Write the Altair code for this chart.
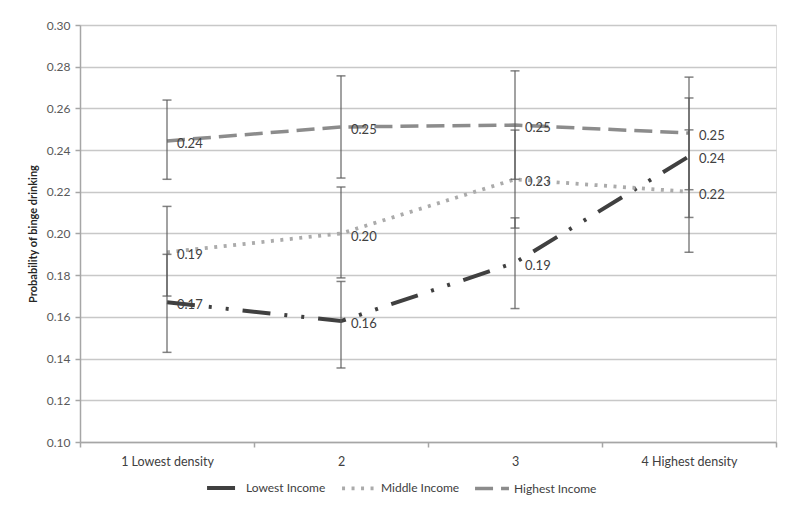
import altair as alt
import pandas as pd

categories = ["1 Lowest density", "2", "3", "4 Highest density"]
series_names = ["Lowest Income", "Middle Income", "Highest Income"]

lowest = [0.167, 0.158, 0.186, 0.237]
lowest_lo = [0.143, 0.1355, 0.164, 0.2077]
lowest_hi = [0.190, 0.177, 0.2075, 0.265]

middle = [0.191, 0.200, 0.226, 0.220]
middle_lo = [0.170, 0.1787, 0.2026, 0.191]
middle_hi = [0.213, 0.2223, 0.2496, 0.2497]

highest = [0.2444, 0.2511, 0.252, 0.2482]
highest_lo = [0.226, 0.2266, 0.226, 0.221]
highest_hi = [0.264, 0.2756, 0.278, 0.275]

y_ticks = [0.10, 0.12, 0.14, 0.16, 0.18, 0.20, 0.22, 0.24, 0.26, 0.28, 0.30]

rows = []
for name, vals, lo, hi in [
    ("Lowest Income", lowest, lowest_lo, lowest_hi),
    ("Middle Income", middle, middle_lo, middle_hi),
    ("Highest Income", highest, highest_lo, highest_hi),
]:
    for c, v, l, h in zip(categories, vals, lo, hi):
        rows.append({"series": name, "category": c, "value": v, "lo": l, "hi": h})
df = pd.DataFrame(rows)

FONT = "Lato"

x_enc = alt.X(
    "category:N",
    sort=categories,
    bandPosition=0.5,
    scale=alt.Scale(type="band", paddingInner=0, paddingOuter=0),
    axis=alt.Axis(
        title=None,
        labelAngle=0,
        labelFontSize=12.5,
        labelColor="#404040",
        labelFont=FONT,
        labelPadding=8,
        tickBand="extent",
        tickSize=5,
        tickColor="#a6a6a6",
        tickWidth=1.5,
        domainColor="#a6a6a6",
        domainWidth=1.5,
        grid=False,
    ),
)

y_scale = alt.Scale(domain=[0.10, 0.30], nice=False, zero=False)

legend_cfg = dict(
    title=None,
    orient="none",
    direction="horizontal",
    legendX=125,
    legendY=444,
    symbolType="stroke",
    symbolStrokeWidth=4,
    symbolSize=1150,
    labelFont=FONT,
    labelFontSize=12,
    labelColor="#404040",
    labelOffset=3,
    columnPadding=8,
)

base = alt.Chart(df)

lines = base.mark_line().encode(
    x=x_enc,
    y=alt.Y(
        "value:Q",
        scale=y_scale,
        axis=alt.Axis(
            title="Probability of binge drinking",
            titleFont=FONT,
            titleFontSize=11,
            titleFontWeight="bold",
            titleColor="#262626",
            titlePadding=8,
            values=y_ticks,
            format=".2f",
            labelFont=FONT,
            labelFontSize=12,
            labelColor="#595959",
            labelPadding=5,
            tickSize=5,
            tickColor="#a6a6a6",
            tickWidth=1.5,
            domainColor="#a6a6a6",
            domainWidth=1.5,
            gridColor="#c8c8c8",
            gridWidth=1.5,
        ),
    ),
    color=alt.Color(
        "series:N",
        sort=series_names,
        scale=alt.Scale(domain=series_names, range=["#404040", "#ababab", "#8c8c8c"]),
        legend=alt.Legend(**legend_cfg),
    ),
    strokeDash=alt.StrokeDash(
        "series:N",
        sort=series_names,
        scale=alt.Scale(domain=series_names, range=[[28, 14, 3, 14, 3, 14], [3, 6.5], [18, 8]]),
        legend=alt.Legend(**legend_cfg),
    ),
    strokeWidth=alt.StrokeWidth(
        "series:N",
        scale=alt.Scale(domain=series_names, range=[4, 3.5, 5]),
        legend=None,
    ),
)

rules = base.mark_rule(color="#595959", opacity=0.75, strokeWidth=1.5).encode(
    x=x_enc,
    y=alt.Y("lo:Q", scale=y_scale),
    y2="hi:Q",
)

caps_lo = base.mark_tick(color="#595959", opacity=0.75, thickness=1.5, size=9).encode(
    x=x_enc, y=alt.Y("lo:Q", scale=y_scale)
)
caps_hi = base.mark_tick(color="#595959", opacity=0.75, thickness=1.5, size=9).encode(
    x=x_enc, y=alt.Y("hi:Q", scale=y_scale)
)

labels = base.mark_text(
    align="left", baseline="middle", dx=10, dy=3, fontSize=13, font=FONT, color="#404040"
).encode(
    x=x_enc,
    y=alt.Y("value:Q", scale=y_scale),
    text=alt.Text("value:Q", format=".2f"),
)

chart = (
    alt.layer(lines, rules, caps_lo, caps_hi, labels)
    .properties(
        width=696,
        height=417,
        padding={"left": 19, "top": 11, "right": 5, "bottom": 5},
    )
    .configure_view(stroke=None)
    .configure(font=FONT)
)

chart.save("out.html", embed_options={"renderer": "svg", "actions": False})
